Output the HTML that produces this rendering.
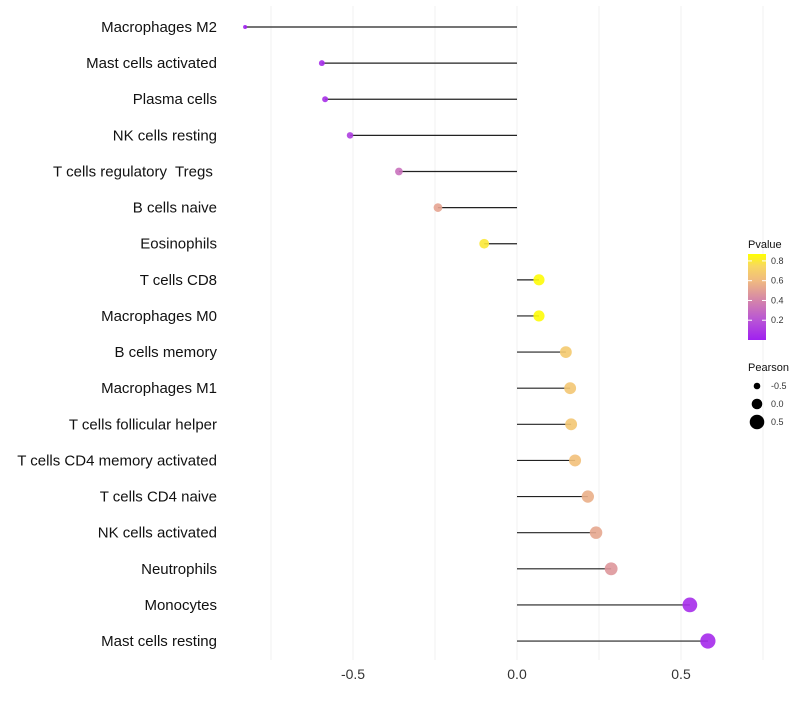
<!DOCTYPE html>
<html><head><meta charset="utf-8"><style>
body{margin:0;background:#fff;font-family:"Liberation Sans",sans-serif;}
svg text{font-family:"Liberation Sans",sans-serif;}
</style></head><body>
<svg id="chart" width="800" height="700"></svg>
<script>
const categories=["Macrophages M2","Mast cells activated","Plasma cells","NK cells resting","T cells regulatory  Tregs ","B cells naive","Eosinophils","T cells CD8","Macrophages M0","B cells memory","Macrophages M1","T cells follicular helper","T cells CD4 memory activated","T cells CD4 naive","NK cells activated","Neutrophils","Monocytes","Mast cells resting"];
const pearson=[-0.829,-0.595,-0.585,-0.509,-0.36,-0.241,-0.10,0.067,0.067,0.149,0.162,0.165,0.177,0.216,0.241,0.287,0.527,0.582];
const pvalues=[0.0,0.05,0.06,0.12,0.32,0.52,0.8,0.86,0.86,0.68,0.66,0.66,0.63,0.56,0.53,0.47,0.05,0.04];
const xTicks=[-0.5,0,0.5];
const xTickLabels=["-0.5","0.0","0.5"];
const gridVals=[-0.75,-0.5,-0.25,0,0.25,0.5,0.75];
const legendP=[0.2,0.4,0.6,0.8];
const legendSize=[-0.5,0,0.5];

const NS="http://www.w3.org/2000/svg";
const svg=document.getElementById('chart');
function mk(t,a,p){const e=document.createElementNS(NS,t);for(const k in a)e.setAttribute(k,a[k]);(p||svg).appendChild(e);return e;}
const x=v=>517+v*328;
const y=i=>27+i*36.12;
const r=v=>2+(v+0.83)/1.41*5.6;
const stops=[[0,[160,32,240]],[0.2,[184,84,214]],[0.4,[212,132,170]],[0.6,[240,186,128]],[0.75,[248,216,96]],[0.87,[255,255,0]]];
function col(p){p=Math.max(0,Math.min(0.87,p));for(let i=1;i<stops.length;i++){if(p<=stops[i][0]){const a=stops[i-1],b=stops[i],t=(p-a[0])/(b[0]-a[0]);return 'rgb('+a[1].map((c,j)=>Math.round(c+(b[1][j]-c)*t)).join(',')+')';}}return 'rgb(255,255,0)';}

gridVals.forEach(g=>{const l=mk('line',{x1:x(g),x2:x(g),y1:6,y2:660,stroke:'#f0f0f0','stroke-width':1});
});
xTicks.forEach((t,i)=>{const e=mk('text',{x:x(t),y:679,'text-anchor':'middle','font-size':14,fill:'#333'});e.textContent=xTickLabels[i];
});
categories.forEach((c,i)=>{
 const t=mk('text',{x:217,y:y(i)+5,'text-anchor':'end','font-size':15,fill:'#111'});t.textContent=c;
 t.setAttribute('xml:space','preserve');t.style.whiteSpace='pre';
 
 const l=mk('line',{x1:x(0),x2:x(pearson[i]),y1:y(i),y2:y(i),stroke:'#222','stroke-width':1.2});
 
 const d=mk('circle',{cx:x(pearson[i]),cy:y(i),r:r(pearson[i]),fill:col(pvalues[i]),'fill-opacity':0.9});
 
});
let lt=mk('text',{x:748,y:248,'font-size':11,fill:'#111'});lt.textContent='Pvalue';

const defs=mk('defs',{});const gr=mk('linearGradient',{id:'pg',x1:0,y1:1,x2:0,y2:0},defs);
stops.forEach(s=>mk('stop',{offset:s[0]/0.87,'stop-color':col(s[0])},gr));
const bar=mk('rect',{x:748,y:254,width:18,height:86,fill:'url(#pg)'});

const py=p=>340-p/0.87*86;
legendP.forEach(p=>{mk('line',{x1:748,x2:752,y1:py(p),y2:py(p),stroke:'#fff'});mk('line',{x1:762,x2:766,y1:py(p),y2:py(p),stroke:'#fff'});
 const e=mk('text',{x:771,y:py(p)+3,'font-size':9,fill:'#333'});e.textContent=p.toFixed(1);
 });
lt=mk('text',{x:748,y:371,'font-size':11,fill:'#111'});lt.textContent='Pearson';

legendSize.forEach((s,i)=>{const cy=386+i*18;mk('circle',{cx:757,cy:cy,r:r(s),fill:'#000'});
 const e=mk('text',{x:771,y:cy+3,'font-size':9,fill:'#333'});e.textContent=s.toFixed(1);
 });
</script></body></html>
